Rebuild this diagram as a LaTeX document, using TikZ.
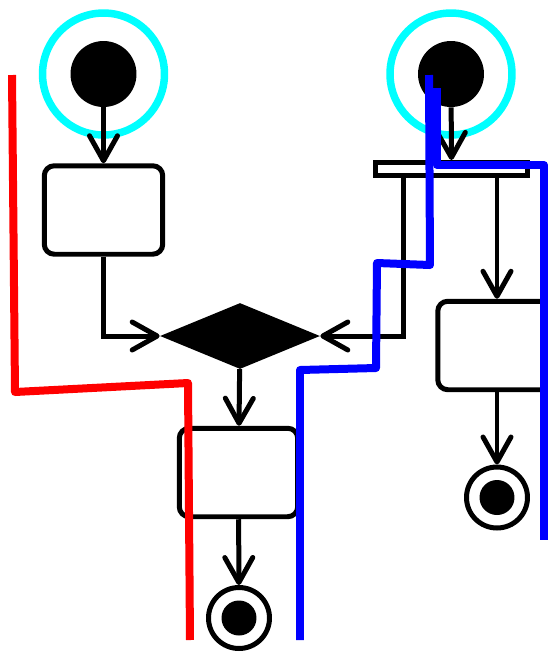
\documentclass[tikz,border=0pt]{standalone}
\usepackage{tikz}
\usetikzlibrary{shapes.geometric, arrows.meta}
\definecolor{ringcyan}{RGB}{0,255,255}

\begin{document}
\begin{tikzpicture}[
    x=0.02cm, y=-0.02cm,
    act/.style={draw, rounded corners=0.2cm, line width=0.1cm, minimum width=2.37cm, minimum height=1.77cm, fill=white, inner sep=0pt},
    startdot/.style={circle, fill=black, minimum size=1.32cm, inner sep=0pt},
    hilite/.style={circle, draw=ringcyan, line width=0.15cm, minimum size=2.44cm, inner sep=0pt},
    enddot/.style={circle, draw, line width=0.1cm, minimum size=1.22cm, inner sep=0pt,
        path picture={\fill (path picture bounding box.center) circle (0.35cm);}},
    forkbar/.style={draw, fill=white, line width=0.1cm, minimum width=3.06cm, minimum height=0.26cm, inner sep=0pt},
    choice/.style={diamond, fill=black, minimum width=3.2cm, minimum height=1.32cm, inner sep=0pt},
    arr/.style={-{Straight Barb[length=0.5cm, width=0.56cm, round]}, line width=0.1cm},
    lane/.style={line width=0.16cm, line join=round, #1}
]
    \useasboundingbox (0,0) rectangle (548,654);
    \clip (0,0) rectangle (548,654);

    % Left flow
    \node[hilite] (ring1) at (103.5,74) {};
    \node[startdot] (start1) at (103.5,74) {};
    \node[act] (box1) at (103.5,210) {};
    \node[choice] (merge) at (240,336) {};
    \node[act] (box2) at (238.5,472.5) {};
    \node[enddot] (end1) at (239,618) {};

    % Right flow
    \node[hilite] (ring2) at (451,74) {};
    \node[startdot] (start2) at (451,74) {};
    \node[forkbar] (fork) at (451.5,169) {};
    \node[act] (box3) at (497,345.5) {};
    \node[enddot] (end2) at (497,497.5) {};

    % Transitions
    \draw[arr] (start1) -- (box1);
    \draw[arr] (box1.south) |- (merge.west);
    \draw[arr] (merge) -- (box2);
    \draw[arr] (box2) -- (end1);
    \draw[arr] (start2) -- (fork);
    \draw[arr] ([xshift=0.62cm]fork.south west) |- (merge.east);
    \draw[arr] (box3.north |- fork.south) -- (box3.north);
    \draw[arr] (box3) -- (end2);

    % Partition strokes
    \draw[lane=red] (12,75) -- (15,392) -- (188,383) -- (190,640);
    \draw[lane=blue] (437,88) -- (437,165) -- (544,165) -- (544,540);
    \draw[lane=blue] (429,75) -- (430,265) -- (377,263) -- (376,368) -- (300,370) -- (300,640);
\end{tikzpicture}
\end{document}
